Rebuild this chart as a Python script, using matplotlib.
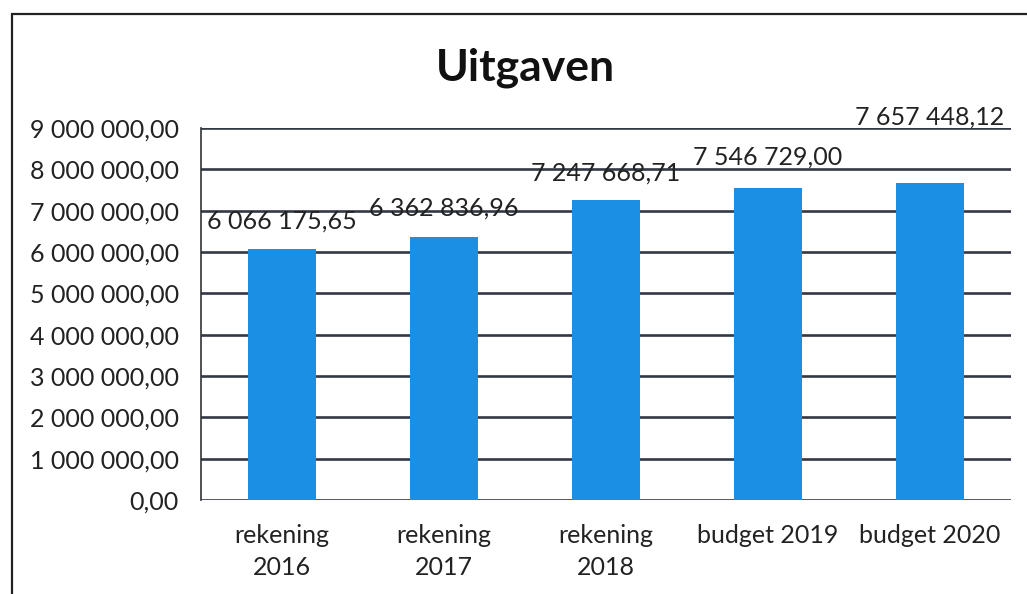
import matplotlib
matplotlib.use("Agg")
import matplotlib.pyplot as plt
from matplotlib.patches import Rectangle

categories = ["rekening\n2016", "rekening\n2017", "rekening\n2018", "budget 2019", "budget 2020"]
values = [6066175.65, 6362836.96, 7247668.71, 7546729.00, 7657448.12]
value_labels = ["6 066 175,65", "6 362 836,96", "7 247 668,71", "7 546 729,00", "7 657 448,12"]
yticks = [0, 1000000, 2000000, 3000000, 4000000, 5000000, 6000000, 7000000, 8000000, 9000000]
ytick_labels = ["0,00", "1 000 000,00", "2 000 000,00", "3 000 000,00", "4 000 000,00",
                "5 000 000,00", "6 000 000,00", "7 000 000,00", "8 000 000,00", "9 000 000,00"]

plt.rcParams['font.family'] = ['Lato', 'DejaVu Sans']

fig = plt.figure(figsize=(10.27, 5.94), dpi=100)
ax = fig.add_axes([201 / 1027, 1 - 500 / 594, 810 / 1027, 372 / 594])

bar_color = "#1a8fe3"
x = range(len(categories))
ax.bar(x, values, width=0.42, color=bar_color, zorder=3)

ax.set_xlim(-0.5, len(categories) - 0.5)
ax.set_ylim(0, 9000000)
ax.set_yticks(yticks)
ax.set_yticklabels(ytick_labels, fontsize=18, color="#222222")
ax.set_xticks(list(x))
ax.set_xticklabels(categories, fontsize=18, color="#222222", linespacing=1.5)
ax.tick_params(axis="y", length=0, pad=16)
ax.tick_params(axis="x", length=0, pad=17)

ax.grid(axis="y", color="#333845", linewidth=1.9, zorder=0)
for side in ["top", "right", "bottom"]:
    ax.spines[side].set_visible(False)
ax.spines["left"].set_color("#333333")
ax.spines["left"].set_linewidth(1.2)

# value labels above bars (last one sits higher in the original)
offsets = [20, 21, 20, 22, 48]
for xi, v, lab, off in zip(x, values, value_labels, offsets):
    ax.annotate(lab, (xi, v), xytext=(0, off), textcoords="offset points",
                ha="center", va="center", fontsize=18, color="#222222", zorder=4)

fig.text(525 / 1027, 1 - 68 / 594, "Uitgaven", ha="center", va="center",
         fontsize=32, fontweight="bold", color="#111111")

# outer chart frame
fig.patches.append(Rectangle((12 / 1027, -0.05), 1.1, 1 - 14 / 594 + 0.05,
                             transform=fig.transFigure, fill=False,
                             edgecolor="#222222", linewidth=1.6))

fig.savefig("out.png", dpi=100, facecolor="white")
